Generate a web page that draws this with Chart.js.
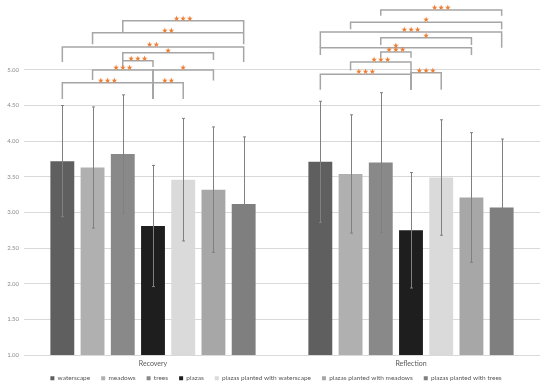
<!DOCTYPE html>
<html><head><meta charset="utf-8">
<script src="https://cdn.jsdelivr.net/npm/chart.js@4/dist/chart.umd.min.js"></script>
<style>html,body{margin:0;padding:0;background:#fff}#wrap{width:550px;height:387px;position:relative}</style>
</head><body><div id="wrap"><canvas id="c"></canvas></div>
<script>
// ---- data ----
const categories = ['Recovery', 'Reflection'];
const seriesNames = ['waterscape', 'meadows', 'trees', 'plazas',
  'plazas planted with waterscape', 'plazas planted with meadows', 'plazas planted with trees'];
const recoveryMeans   = [3.72, 3.63, 3.82, 2.81, 3.46, 3.32, 3.12];
const reflectionMeans = [3.71, 3.54, 3.70, 2.75, 3.49, 3.21, 3.07];
const recoverySD      = [0.78, 0.85, 0.83, 0.85, 0.86, 0.88, 0.94];
const reflectionSD    = [0.85, 0.83, 0.98, 0.81, 0.81, 0.91, 0.96];
const yMin = 1, yMaxTick = 5, yStep = 0.5;
// significance brackets: [fromBar, toBar, level, leftLegEnd, rightLegEnd, label] (values in y units)
const recoveryBrackets = [
  [2, 6, 5.69, 5.53, 5.53, '★★★'],
  [1, 6, 5.52, 5.36, 5.36, '★★'],
  [0, 6, 5.32, 5.11, 5.11, '★★'],
  [2, 5, 5.24, 5.14, 5.14, '★'],
  [2, 3, 5.13, 5.04, 5.04, '★★★'],
  [1, 3, 5.00, 4.86, 4.59, '★★★'],
  [3, 5, 5.00, 4.59, 4.85, '★'],
  [0, 3, 4.82, 4.59, 4.59, '★★★'],
  [3, 4, 4.82, 4.59, 4.59, '★★']
];
const reflectionBrackets = [
  [2, 6, 5.84, 5.76, 5.76, '★★★'],
  [1, 6, 5.67, 5.57, 5.57, '★'],
  [0, 6, 5.53, 5.31, 5.31, '★★★'],
  [2, 5, 5.45, 5.35, 5.35, '★'],
  [0, 5, 5.31, 5.21, 5.21, '★'],
  [2, 3, 5.25, 5.17, 5.17, '★★★'],
  [1, 3, 5.11, 4.99, 4.72, '★★★'],
  [0, 3, 4.94, 4.72, 4.72, '★★★'],
  [3, 4, 4.96, 4.72, 4.72, '★★★']
];

// ---- styles ----
const barColors = ['#5f5f5f', '#b0b0b0', '#898989', '#1e1e1e', '#dadada', '#a7a7a7', '#7f7f7f'];

const datasets = seriesNames.map((name, i) => ({
  label: name,
  data: [recoveryMeans[i], reflectionMeans[i]],
  sd: [recoverySD[i], reflectionSD[i]],
  backgroundColor: barColors[i],
  borderWidth: 0,
  categoryPercentage: 0.82,
  barPercentage: 0.79
}));

const errorBars = {
  id: 'errorBars',
  afterDatasetsDraw(chart) {
    const ctx = chart.ctx, y = chart.scales.y;
    ctx.save();
    ctx.strokeStyle = '#808080';
    ctx.lineWidth = 1;
    chart.data.datasets.forEach((ds, di) => {
      chart.getDatasetMeta(di).data.forEach((bar, ci) => {
        const m = ds.data[ci], s = ds.sd[ci];
        const x = Math.round(bar.x) + 0.5;
        const t = y.getPixelForValue(m + s), b = y.getPixelForValue(m - s);
        ctx.beginPath();
        ctx.moveTo(x, t); ctx.lineTo(x, b);
        ctx.moveTo(x - 1.5, t); ctx.lineTo(x + 1.5, t);
        ctx.moveTo(x - 1.5, b); ctx.lineTo(x + 1.5, b);
        ctx.stroke();
      });
    });
    ctx.restore();
  }
};

const brackets = {
  id: 'brackets',
  afterDraw(chart) {
    const ctx = chart.ctx, y = chart.scales.y;
    ctx.save();
    [recoveryBrackets, reflectionBrackets].forEach((list, cat) => {
      list.forEach(([a, b, lvl, e1, e2, label]) => {
        const x1 = chart.getDatasetMeta(a).data[cat].x;
        const x2 = chart.getDatasetMeta(b).data[cat].x;
        const yl = y.getPixelForValue(lvl);
        ctx.strokeStyle = '#a6a6a6';
        ctx.lineWidth = 1.5;
        ctx.beginPath();
        ctx.moveTo(x1, y.getPixelForValue(e1));
        ctx.lineTo(x1, yl);
        ctx.lineTo(x2, yl);
        ctx.lineTo(x2, y.getPixelForValue(e2));
        ctx.stroke();
        ctx.fillStyle = '#ED7D31';
        ctx.font = '7.5px "DejaVu Sans"';
        ctx.textAlign = 'center';
        ctx.textBaseline = 'middle';
        ctx.fillText(label, (x1 + x2) / 2, yl - 2);
      });
    });
    ctx.restore();
  }
};

// pull the legend up closer to the category labels (as in the reference)
const legendNudge = {
  id: 'legendNudge',
  afterLayout(chart) {
    const lg = chart.legend;
    if (lg) { lg.top -= 7; lg.bottom -= 7; lg.left += 6; lg.right += 6; }
  }
};

new Chart(document.getElementById('c'), {
  type: 'bar',
  data: { labels: categories, datasets },
  options: {
    responsive: true,
    maintainAspectRatio: false,
    animation: false,
    layout: { padding: { top: 0, right: 10, left: 0, bottom: -11.5 } },
    scales: {
      x: {
        grid: { display: false, drawTicks: false },
        border: { display: false },
        ticks: { color: '#595959', font: { family: 'Lato', size: 7 }, padding: 5 },
        afterFit(s) { s.height = 16; }
      },
      y: {
        min: yMin,
        max: 5.86,
        border: { display: false },
        grid: { color: '#d9d9d9', drawTicks: false },
        ticks: {
          stepSize: yStep,
          color: '#8c8c8c',
          font: { family: 'Lato', size: 6 },
          padding: 5,
          callback: v => (v > yMaxTick + 1e-6 ? null : v.toFixed(2))
        },
        afterFit(s) { s.width = 24; }
      }
    },
    plugins: {
      tooltip: { enabled: false },
      legend: {
        position: 'bottom',
        labels: { boxWidth: 4, boxHeight: 4, padding: 11, color: '#595959', font: { family: 'Lato', size: 6.5 } }
      }
    }
  },
  plugins: [errorBars, brackets, legendNudge]
});
</script>
</body></html>
